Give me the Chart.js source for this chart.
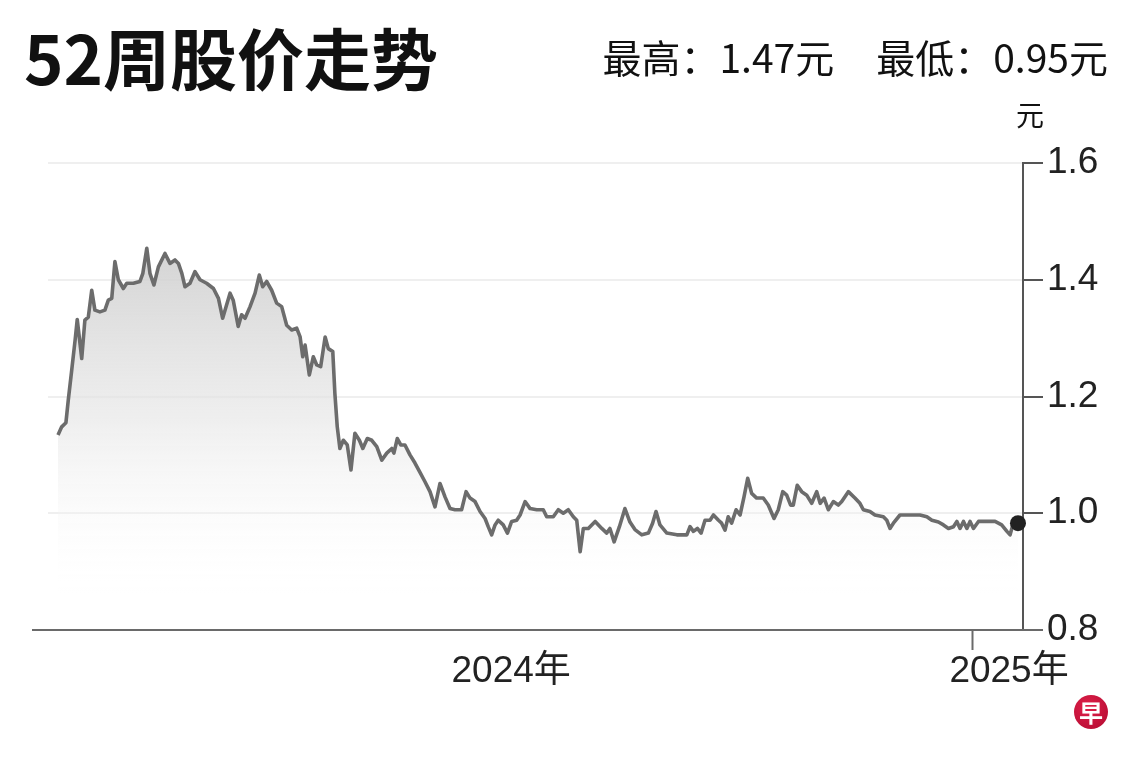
<!DOCTYPE html>
<html>
<head>
<meta charset="utf-8">
<script src="https://cdn.jsdelivr.net/npm/chart.js@4"></script>
<style>
    body { margin: 0; background: #fff; }
    #wrap { position: relative; width: 1140px; height: 761px; overflow: hidden; }
    #chart { position: absolute; left: 0; top: 0; }
    .txt { position: absolute; font-family: "Noto Sans CJK SC", sans-serif; color: #111; white-space: nowrap; line-height: 1; }
    #title { left: 24px; top: 22px; font-size: 67px; font-weight: 700; }
    #range { right: 32px; top: 37px; font-size: 39px; }
    #range span { margin-left: 42px; }
    #unit { left: 1016px; top: 100px; font-size: 28px; }
    #logo { position: absolute; left: 1074px; top: 695px; width: 34px; height: 34px; border-radius: 50%;
        background: radial-gradient(circle at 40% 35%, #e0204a, #b00a30); color: #fff;
        font: 700 24px "Noto Sans CJK SC", sans-serif; line-height: 34px; text-align: center; }
</style>
</head>
<body>
<div id="wrap">
    <canvas id="chart" width="1140" height="761"></canvas>
    <div class="txt" id="title">52周股价走势</div>
    <div class="txt" id="range">最高：1.47元<span>最低：0.95元</span></div>
    <div class="txt" id="unit">元</div>
    <div id="logo">早</div>
</div>
<script>
// day 0 = first trading day in the window, day 347 = 1 Jan 2025
const days = [
    0, 1.4, 3.0, 3.9, 5.2, 6.5, 7.3, 9.0, 10.2, 11.5, 12.8, 14.0, 15.9, 17.8, 19.1, 20.4, 21.6, 22.9, 24.8, 26.1,
    28.6, 31.1, 32.2, 33.7, 34.9, 36.4, 38.1, 40.6, 42.5, 44.4, 45.7, 47.0, 48.2, 50.1, 52.0, 53.9, 56.4, 59.0, 60.9, 62.5,
    65.3, 66.5, 68.4, 69.7, 71.0, 72.9, 74.8, 76.4, 77.7, 79.2, 81.1, 83.0, 84.9, 86.8, 88.7, 90.6, 91.9, 92.9, 93.8, 95.4,
    96.9, 98.2, 99.7, 101.4, 102.6, 104.3, 105.1, 106.0, 107.0, 108.3, 109.8, 111.2, 112.7, 114.4, 115.7, 117.4, 119.1, 121.0, 122.9, 124.8,
    126.7, 127.5, 128.8, 130.1, 131.7, 133.6, 135.5, 137.4, 139.3, 141.2, 143.1, 145.0, 146.9, 148.8, 150.7, 153.2, 154.9, 156.4, 158.3, 160.2,
    162.1, 163.3, 164.6, 165.9, 167.1, 169.0, 170.6, 172.2, 174.1, 175.4, 177.3, 179.2, 181.7, 184.2, 185.5, 188.0, 189.9, 191.8, 193.7, 195.6,
    196.9, 198.2, 199.4, 201.3, 203.9, 206.4, 208.3, 209.5, 211.1, 213.1, 215.2, 217.1, 219.0, 221.6, 224.1, 225.7, 227.0, 228.5, 231.1, 234.9,
    238.7, 239.9, 241.2, 242.7, 244.1, 245.6, 247.5, 248.8, 250.7, 251.9, 253.2, 254.4, 255.7, 257.4, 258.9, 260.4, 261.8, 263.3, 265.2, 267.7,
    269.6, 271.8, 273.4, 275.1, 276.6, 278.1, 279.1, 280.6, 282.3, 284.2, 286.1, 288.0, 289.3, 290.8, 292.4, 294.3, 296.2, 297.5, 300.0, 302.5,
    304.4, 305.7, 308.2, 310.1, 313.3, 314.6, 315.8, 317.1, 319.6, 323.4, 327.2, 329.8, 331.7, 334.2, 336.1, 338.0, 339.9, 341.2, 342.4, 343.7,
    345.0, 346.2, 347.5, 349.4, 352.6, 355.7, 358.2, 360.2, 361.4, 362.6, 364.4
];
const prices = [
    1.134, 1.148, 1.155, 1.194, 1.245, 1.297, 1.332, 1.265, 1.331, 1.336, 1.382, 1.348, 1.345, 1.348, 1.365, 1.368, 1.431, 1.400, 1.385, 1.394,
    1.394, 1.397, 1.411, 1.454, 1.411, 1.391, 1.422, 1.445, 1.428, 1.434, 1.428, 1.411, 1.388, 1.394, 1.414, 1.400, 1.394, 1.385, 1.368, 1.334,
    1.377, 1.365, 1.320, 1.340, 1.334, 1.354, 1.377, 1.408, 1.388, 1.397, 1.382, 1.360, 1.354, 1.322, 1.314, 1.317, 1.302, 1.268, 1.288, 1.237,
    1.268, 1.254, 1.251, 1.302, 1.282, 1.277, 1.205, 1.148, 1.111, 1.125, 1.117, 1.074, 1.137, 1.125, 1.111, 1.128, 1.125, 1.114, 1.091, 1.103,
    1.111, 1.103, 1.128, 1.117, 1.117, 1.100, 1.086, 1.070, 1.054, 1.037, 1.011, 1.051, 1.028, 1.008, 1.006, 1.006, 1.037, 1.026, 1.020, 1.003,
    0.991, 0.977, 0.963, 0.980, 0.988, 0.980, 0.966, 0.986, 0.988, 0.997, 1.020, 1.008, 1.006, 1.006, 0.994, 0.994, 1.006, 1.000, 1.006, 0.994,
    0.988, 0.934, 0.974, 0.974, 0.986, 0.974, 0.966, 0.974, 0.951, 0.977, 1.008, 0.985, 0.972, 0.963, 0.966, 0.983, 1.003, 0.980, 0.966, 0.963,
    0.963, 0.977, 0.969, 0.974, 0.966, 0.988, 0.988, 0.997, 0.988, 0.983, 0.971, 0.994, 0.983, 1.006, 0.997, 1.028, 1.060, 1.034, 1.026, 1.026,
    1.014, 0.991, 1.006, 1.037, 1.031, 1.014, 1.014, 1.048, 1.037, 1.031, 1.017, 1.037, 1.017, 1.026, 1.006, 1.020, 1.014, 1.020, 1.037, 1.026,
    1.017, 1.006, 1.003, 0.997, 0.994, 0.988, 0.974, 0.983, 0.997, 0.997, 0.997, 0.994, 0.988, 0.985, 0.980, 0.974, 0.977, 0.986, 0.974, 0.986,
    0.974, 0.986, 0.974, 0.986, 0.986, 0.986, 0.980, 0.969, 0.963, 0.983, 0.983
];
const yTicks = [0.8, 1.0, 1.2, 1.4, 1.6];
const yearStart2025 = 347;
const xLabels = [
    { value: 172, label: '2024年' },
    { value: 361, label: '2025年' }
];

const TICK_FONT = { family: '"Liberation Sans", "Noto Sans CJK SC", sans-serif', size: 37 };

function fillGradient(context) {
    const area = context.chart.chartArea;
    if (!area) return 'rgba(0,0,0,0)';
    const g = context.chart.ctx.createLinearGradient(0, 240, 0, 600);
    g.addColorStop(0, 'rgba(205,205,205,0.9)');
    g.addColorStop(0.5, 'rgba(230,230,230,0.65)');
    g.addColorStop(1, 'rgba(255,255,255,0)');
    return g;
}

// baseline of the x axis runs a bit past the plot on both sides
const baseline = {
    id: 'baseline',
    afterDraw(chart) {
        const { ctx, chartArea } = chart;
        ctx.save();
        ctx.strokeStyle = '#6a6a6a';
        ctx.lineWidth = 2;
        ctx.beginPath();
        ctx.moveTo(chartArea.left - 16, chartArea.bottom);
        ctx.lineTo(chartArea.right + 20, chartArea.bottom);
        ctx.stroke();
        ctx.restore();
    }
};

const points = days.map((d, i) => ({ x: d, y: prices[i] }));

new Chart(document.getElementById('chart').getContext('2d'), {
    type: 'line',
    data: {
        datasets: [{
            data: points,
            borderColor: '#6c6c6c',
            borderWidth: 3.6,
            borderJoinStyle: 'round',
            backgroundColor: fillGradient,
            fill: 'start',
            tension: 0,
            clip: false,
            pointRadius: ctx => ctx.dataIndex === prices.length - 1 ? 8 : 0,
            pointBackgroundColor: '#222',
            pointBorderWidth: 0
        }]
    },
    options: {
        responsive: false,
        animation: false,
        layout: { padding: { top: 163, left: 48, right: 0, bottom: 0 } },
        plugins: { legend: { display: false }, tooltip: { enabled: false } },
        scales: {
            x: {
                type: 'linear',
                min: -3.8,
                max: 366.3,
                afterBuildTicks: scale => {
                    scale.ticks = [{ value: xLabels[0].value }, { value: yearStart2025 }, { value: xLabels[1].value }];
                },
                afterFit: scale => { scale.height = 131; },
                border: { display: false },
                grid: {
                    drawOnChartArea: false,
                    tickLength: 20,
                    tickWidth: 2,
                    tickColor: ctx => ctx.tick && ctx.tick.value === yearStart2025 ? '#6a6a6a' : 'rgba(0,0,0,0)'
                },
                ticks: {
                    autoSkip: false,
                    maxRotation: 0,
                    padding: 0,
                    color: '#222',
                    font: TICK_FONT,
                    callback: value => {
                        const hit = xLabels.find(l => l.value === value);
                        return hit ? hit.label : '';
                    }
                }
            },
            y: {
                position: 'right',
                min: 0.8,
                max: 1.6,
                afterBuildTicks: scale => { scale.ticks = yTicks.map(v => ({ value: v })); },
                afterFit: scale => { scale.width = 117; },
                border: { display: true, color: '#555', width: 2 },
                grid: {
                    color: ctx => ctx.tick && ctx.tick.value === 0.8 ? 'rgba(0,0,0,0)' : '#efefef',
                    lineWidth: 2,
                    tickLength: 20,
                    tickWidth: 2,
                    tickColor: '#555'
                },
                ticks: {
                    padding: 4,
                    color: '#222',
                    font: TICK_FONT,
                    callback: v => v.toFixed(1)
                }
            }
        }
    },
    plugins: [baseline]
});
</script>
</body>
</html>
